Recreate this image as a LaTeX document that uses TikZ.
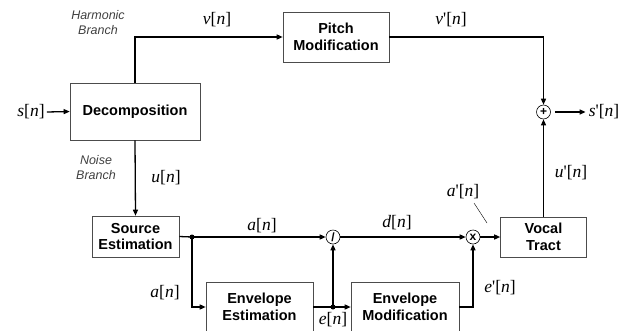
\documentclass[tikz,border=0pt]{standalone}
\usepackage{fontspec}
\setmainfont{Liberation Serif}
\setsansfont{Liberation Sans}
\usetikzlibrary{arrows.meta}
\newcommand\sgl[2]{{\itshape #1}#2[{\itshape n}]}
\newcommand\prm{\textquotesingle}
\begin{document}
\begin{tikzpicture}[x=1pt,y=-1pt,
 blk/.style={draw=black!70, line width=0.6pt, fill=white, font=\sffamily\bfseries\fontsize{14.5}{16.5}\selectfont, align=center, inner sep=0},
 sig/.style={line width=1.3pt, -{Triangle[length=6pt,width=5pt]}},
 wire/.style={line width=1.3pt},
 op/.style={draw, circle, line width=0.6pt, minimum size=14pt, inner sep=0, fill=white, font=\sffamily\bfseries\fontsize{12}{12}\selectfont},
 lbl/.style={font=\fontsize{17.5}{17.5}\selectfont, inner sep=0},
 br/.style={font=\sffamily\itshape\fontsize{12.5}{15}\selectfont, text=black!75, align=center, inner sep=0},
 dot/.style={circle, fill, inner sep=0, minimum size=5pt}]
\useasboundingbox (0,0) rectangle (631,330);
% blocks
\node[blk, minimum width=130pt, minimum height=57pt] (decomp) at (135,111.5) {Decomposition};
\node[blk, minimum width=106pt, minimum height=50pt] (pitch) at (336,37) {Pitch\\Modification};
\node[blk, minimum width=87pt, minimum height=41pt] (src) at (135.5,236.5) {Source\\Estimation};
\node[blk, minimum width=86pt, minimum height=40pt] (vt) at (543.5,237) {Vocal\\Tract};
\node[blk, minimum width=107pt, minimum height=50pt] (envest) at (259.5,307) {Envelope\\Estimation};
\node[blk, minimum width=108pt, minimum height=50pt] (envmod) at (405,307) {Envelope\\Modification};
% operators
\node[op] (plus) at (543.5,112) {+};
\node[op] (div) at (333,237) {/};
\node[op] (mul) at (473,237) {x};
\node[dot] (d1) at (192,237) {};
\node[dot] (d2) at (333,307) {};
% labels
\node[lbl] (sin) at (31,112) {\sgl{s}{}};
\node[lbl] (sout) at (604,112) {\sgl{s}{\prm}};
\node[lbl] (lv) at (217,20) {\sgl{v}{}};
\node[lbl] (lvp) at (451,20) {\sgl{v}{\prm}};
\node[lbl] (lu) at (166,178) {\sgl{u}{}};
\node[lbl] (lup) at (571,173) {\sgl{u}{\prm}};
\node[lbl] (la1) at (262,226) {\sgl{a}{}};
\node[lbl] (la2) at (165,293) {\sgl{a}{}};
\node[lbl] (ld) at (397,223) {\sgl{d}{}};
\node[lbl] (lap) at (463,192) {\sgl{a}{\prm}};
\node[lbl] (le) at (333,320) {\sgl{e}{}};
\node[lbl] (lep) at (500,288) {\sgl{e}{\prm}};
\node[br] (hb) at (98,23) {Harmonic\\Branch};
\node[br] (nb) at (96,168) {Noise\\Branch};
% connectors
\draw[sig] (sin.east) ++(2pt,0) -- (decomp.west);
\draw[sig] (decomp.north) |- (pitch.west);
\draw[sig] (pitch.east) -| (plus.north);
\draw[sig] (vt.north) -- (plus.south);
\draw[sig] ([xshift=4pt]plus.east) -- ([xshift=-3pt]sout.west);
\draw[sig] (decomp.south) -- (src.north);
\draw[wire] (src.east) -- (d1.center);
\draw[sig] (d1.center) -- (div.west);
\draw[sig] (d1.center) |- (envest.west);
\draw[wire] (envest.east) -- (d2.center);
\draw[sig] (d2.center) -- (envmod.west);
\draw[sig] (d2.center) -- (div.south);
\draw[sig] (div.east) -- (mul.west);
\draw[sig] (envmod.east) -| (mul.south);
\draw[sig] (mul.east) -- (vt.west);
\coordinate (pa) at (474,203);
\coordinate (pb) at (487,223);
\draw[line width=0.4pt] (pa) -- (pb);
\end{tikzpicture}
\end{document}
